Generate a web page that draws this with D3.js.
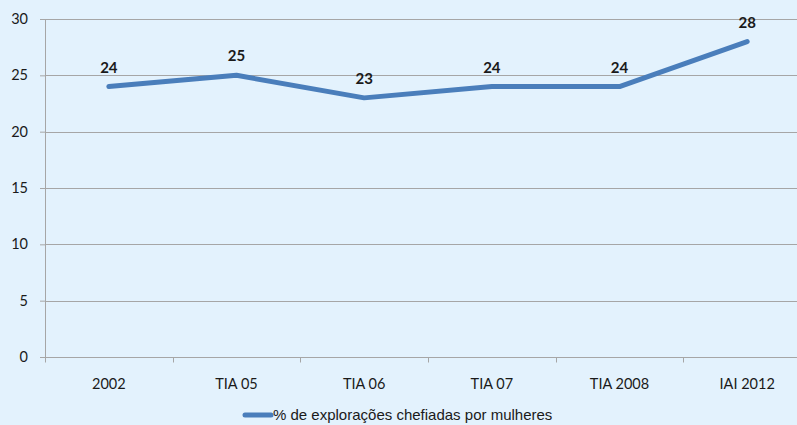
<!DOCTYPE html>
<html>
<head>
<meta charset="utf-8">
<script src="https://cdn.jsdelivr.net/npm/d3@7"></script>
<style>
  html, body { margin: 0; padding: 0; background: #e3f2fd; }
  svg { display: block; }
</style>
</head>
<body>
<div id="chart"></div>
<script>
// ---- Data -----------------------------------------------------------
const categories = ['2002', 'TIA 05', 'TIA 06', 'TIA 07', 'TIA 2008', 'IAI 2012'];
const values = [24, 25, 23, 24, 24, 28];
const yTicks = [0, 5, 10, 15, 20, 25, 30];
const seriesName = '% de explorações chefiadas por mulheres';

// ---- Dimensions -----------------------------------------------------
const dimensions = {
  width: 797,
  height: 425,
  margin: { top: 19, left: 45 }
};
dimensions.ctrWidth = 766;   // runs past the right edge, as in the source
dimensions.ctrHeight = 338;

const svg = d3.select('#chart')
  .append('svg')
  .attr('width', dimensions.width)
  .attr('height', dimensions.height);

svg.append('rect')
  .attr('width', dimensions.width)
  .attr('height', dimensions.height)
  .attr('fill', '#e3f2fd');

const ctr = svg.append('g')
  .attr('transform', `translate(${dimensions.margin.left},${dimensions.margin.top})`);

// ---- Scales ---------------------------------------------------------
const xScale = d3.scaleBand()
  .domain(categories)
  .range([0, dimensions.ctrWidth]);

const yScale = d3.scaleLinear()
  .domain([0, 30])
  .range([dimensions.ctrHeight, 0]);

// ---- Grid + y axis --------------------------------------------------
const yAxis = d3.axisLeft(yScale)
  .tickValues(yTicks)
  .tickSize(5)
  .tickPadding(12);

const yAxisGroup = ctr.append('g').call(yAxis);
yAxisGroup.select('.domain').remove();
yAxisGroup.selectAll('.tick line').attr('stroke', '#a6a6a6');
yAxisGroup.selectAll('.tick text')
  .attr('fill', '#1a1a1a')
  .style('font-family', 'Lato, "Open Sans", sans-serif')
  .style('font-size', '14.5px');

ctr.append('g')
  .selectAll('line')
  .data(yTicks.filter(d => d > 0))
  .join('line')
  .attr('x1', 0)
  .attr('x2', dimensions.ctrWidth)
  .attr('y1', d => Math.round(yScale(d)) + 0.5)
  .attr('y2', d => Math.round(yScale(d)) + 0.5)
  .attr('stroke', '#a6a6a6')
  .attr('stroke-width', 1);

ctr.append('line')
  .attr('x1', 0.5).attr('x2', 0.5)
  .attr('y1', 0).attr('y2', dimensions.ctrHeight)
  .attr('stroke', '#a6a6a6');

// ---- x axis ---------------------------------------------------------
const xAxisGroup = ctr.append('g')
  .attr('transform', `translate(0,${dimensions.ctrHeight + 0.5})`);

xAxisGroup.append('line')
  .attr('x1', 0).attr('x2', dimensions.ctrWidth)
  .attr('stroke', '#a6a6a6');

xAxisGroup.selectAll('.cat-tick')
  .data(categories)
  .join('line')
  .classed('cat-tick', true)
  .attr('x1', d => Math.round(xScale(d)) + 0.5)
  .attr('x2', d => Math.round(xScale(d)) + 0.5)
  .attr('y1', 0)
  .attr('y2', 5)
  .attr('stroke', '#a6a6a6');

xAxisGroup.selectAll('.cat-label')
  .data(categories)
  .join('text')
  .classed('cat-label', true)
  .attr('x', d => xScale(d) + xScale.bandwidth() / 2)
  .attr('y', 31)
  .attr('text-anchor', 'middle')
  .attr('fill', '#1a1a1a')
  .style('font-family', 'Lato, "Open Sans", sans-serif')
  .style('font-size', '14.5px')
  .text(d => d);

// ---- Line -----------------------------------------------------------
const line = d3.line()
  .x((d, i) => xScale(categories[i]) + xScale.bandwidth() / 2)
  .y(d => yScale(d));

ctr.append('path')
  .datum(values)
  .attr('d', line)
  .attr('fill', 'none')
  .attr('stroke', '#4a7ebb')
  .attr('stroke-width', 5)
  .attr('stroke-linejoin', 'round')
  .attr('stroke-linecap', 'round');

// ---- Data labels ----------------------------------------------------
ctr.selectAll('.value-label')
  .data(values)
  .join('text')
  .classed('value-label', true)
  .attr('x', (d, i) => xScale(categories[i]) + xScale.bandwidth() / 2)
  .attr('y', d => yScale(d) - 14)
  .attr('text-anchor', 'middle')
  .attr('fill', '#1a1a1a')
  .style('font-family', 'Lato, "Open Sans", sans-serif')
  .style('font-weight', 'bold')
  .style('font-size', '15px')
  .text(d => d);

// ---- Legend ---------------------------------------------------------
const legend = svg.append('g')
  .attr('transform', 'translate(243,415)');

legend.append('line')
  .attr('x1', 2).attr('x2', 28)
  .attr('stroke', '#4a7ebb')
  .attr('stroke-width', 5)
  .attr('stroke-linecap', 'round');

legend.append('text')
  .attr('x', 30)
  .attr('y', 5)
  .attr('fill', '#1a1a1a')
  .style('font-family', '"Liberation Sans", Arial, sans-serif')
  .style('font-size', '15px')
  .text(seriesName);
</script>
</body>
</html>
